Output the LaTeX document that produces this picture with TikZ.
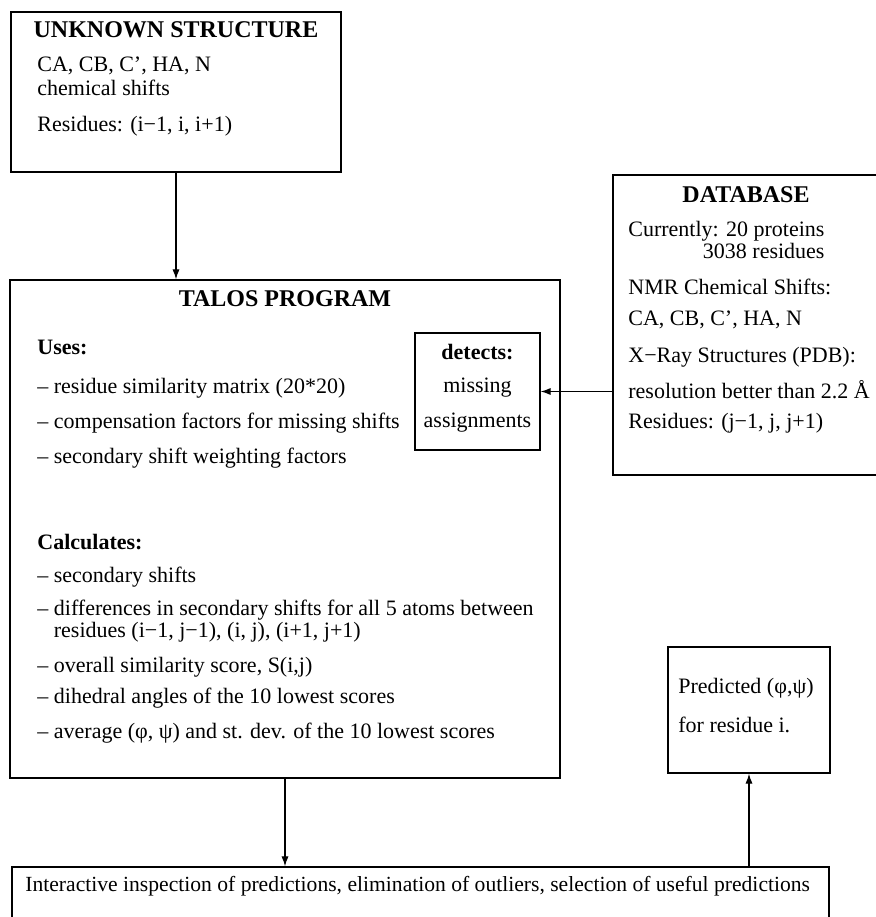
\documentclass[tikz,border=0pt]{standalone}
\usepackage{fontspec}
\setmainfont{Liberation Serif}
\usepackage{tikz}
\usetikzlibrary{arrows.meta, calc, positioning}
\newcommand{\pxu}{0.5pt}
\newcommand{\flowtext}{\fontsize{11}{13}\selectfont}
\newcommand{\flowtight}{\fontsize{11}{8.8}\selectfont}
\newcommand{\flowtitle}{\fontsize{12}{14}\selectfont\bfseries}
\tikzset{
  flowbox/.style ={rectangle, draw=black, line width=0.7pt, inner sep=0pt},
  boxtitle/.style={font=\flowtitle, inner sep=0pt},
  boxtext/.style ={font=\flowtext, inner sep=0pt, anchor=west},
  twoline/.style ={boxtext, font=\flowtight},
  subhead/.style ={boxtext, font=\flowtext\bfseries},
  midtext/.style ={font=\flowtext, inner sep=0pt},
  flowarr/.style ={-{Latex[length=5pt,width=3.6pt]}, line width=0.6pt},
}
\begin{document}
\begin{tikzpicture}[x=\pxu, y=-\pxu]
  \useasboundingbox (0,0) rectangle (875,917);
  \fill[white] (0,0) rectangle (875,917);
  % boxes
  \node[flowbox, minimum width=330*\pxu, minimum height=160*\pxu] (unknown) at (176,92) {};
  \node[flowbox, minimum width=550*\pxu, minimum height=498*\pxu] (talos) at (285,529) {};
  \node[flowbox, minimum width=125*\pxu, minimum height=117*\pxu] (detects) at (477.5,391.5) {};
  \node[flowbox, minimum width=269*\pxu, minimum height=300*\pxu] (database) at (747.5,325) {};
  \node[flowbox, minimum width=162*\pxu, minimum height=126*\pxu] (predicted) at (749,710) {};
  \node[flowbox, minimum width=817*\pxu, minimum height=73*\pxu] (inspect) at (420.5,903.5) {};
  % unknown structure
  \node[boxtitle] (unktitle) at (176,30) {UNKNOWN STRUCTURE};
  \node[boxtext] (unkshift) at (37,66) {CA, CB, C', HA, N};
  \node[boxtext] (unkchem) at (37,88) {chemical shifts};
  \node[boxtext] (unkres) at (37,126) {Residues: (i−1, i, i+1)};
  % talos program
  \node[boxtitle] (taltitle) at (285,299) {TALOS PROGRAM};
  \node[subhead] (uses) at (37,347) {Uses:};
  \node[boxtext] (usea) at (37,388) {– residue similarity matrix (20*20)};
  \node[boxtext] (useb) at (37,423) {– compensation factors for missing shifts};
  \node[boxtext] (usec) at (37,458) {– secondary shift weighting factors};
  \node[subhead] (calc) at (37,542) {Calculates:};
  \node[boxtext] (calca) at (37,577) {– secondary shifts};
  \node[twoline, align=left] (calcb) at (37,621)
    {– differences in secondary shifts for all 5 atoms between\\\hphantom{– }residues (i−1, j−1), (i, j), (i+1, j+1)};
  \node[boxtext] (calcc) at (37,667) {– overall similarity score, S(i,j)};
  \node[boxtext] (calcd) at (37,698) {– dihedral angles of the 10 lowest scores};
  \node[boxtext] (calce) at (37,733) {– average (φ, ψ) and st. dev. of the 10 lowest scores};
  % detects
  \node[midtext, font=\flowtext\bfseries] (dettitle) at (477.5,352) {detects:};
  \node[midtext] (detmiss) at (477.5,388) {missing};
  \node[midtext] (detassign) at (477.5,423) {assignments};
  % database
  \node[boxtitle] (dbtitle) at (746,195) {DATABASE};
  \node[twoline, align=right] (dbcur) at (628,240) {Currently: 20 proteins\\3038 residues};
  \node[boxtext] (dbnmr) at (628,287) {NMR Chemical Shifts:};
  \node[boxtext] (dbshift) at (628,320) {CA, CB, C', HA, N};
  \node[boxtext] (dbxray) at (628,357) {X−Ray Structures (PDB):};
  \node[boxtext] (dbresol) at (628,390) {resolution better than 2.2 Å};
  \node[boxtext] (dbresid) at (628,423) {Residues: (j−1, j, j+1)};
  % predicted
  \node[boxtext] (predphi) at (678,688) {Predicted (φ,ψ)};
  \node[boxtext] (predres) at (678,725) {for residue i.};
  % inspection
  \node[boxtext, font=\fontsize{10.8}{13}\selectfont] (insptext) at (25,886)
    {Interactive inspection of predictions, elimination of outliers, selection of useful predictions};
  % connectors
  \draw[flowarr] (unknown.south) -- (unknown.south |- talos.north);
  \draw[flowarr] (database.west |- detects.east) -- (detects.east);
  \draw[flowarr] (talos.south) -- (talos.south |- inspect.north);
  \draw[flowarr] (inspect.north -| predicted.south) -- (predicted.south);
\end{tikzpicture}
\end{document}
